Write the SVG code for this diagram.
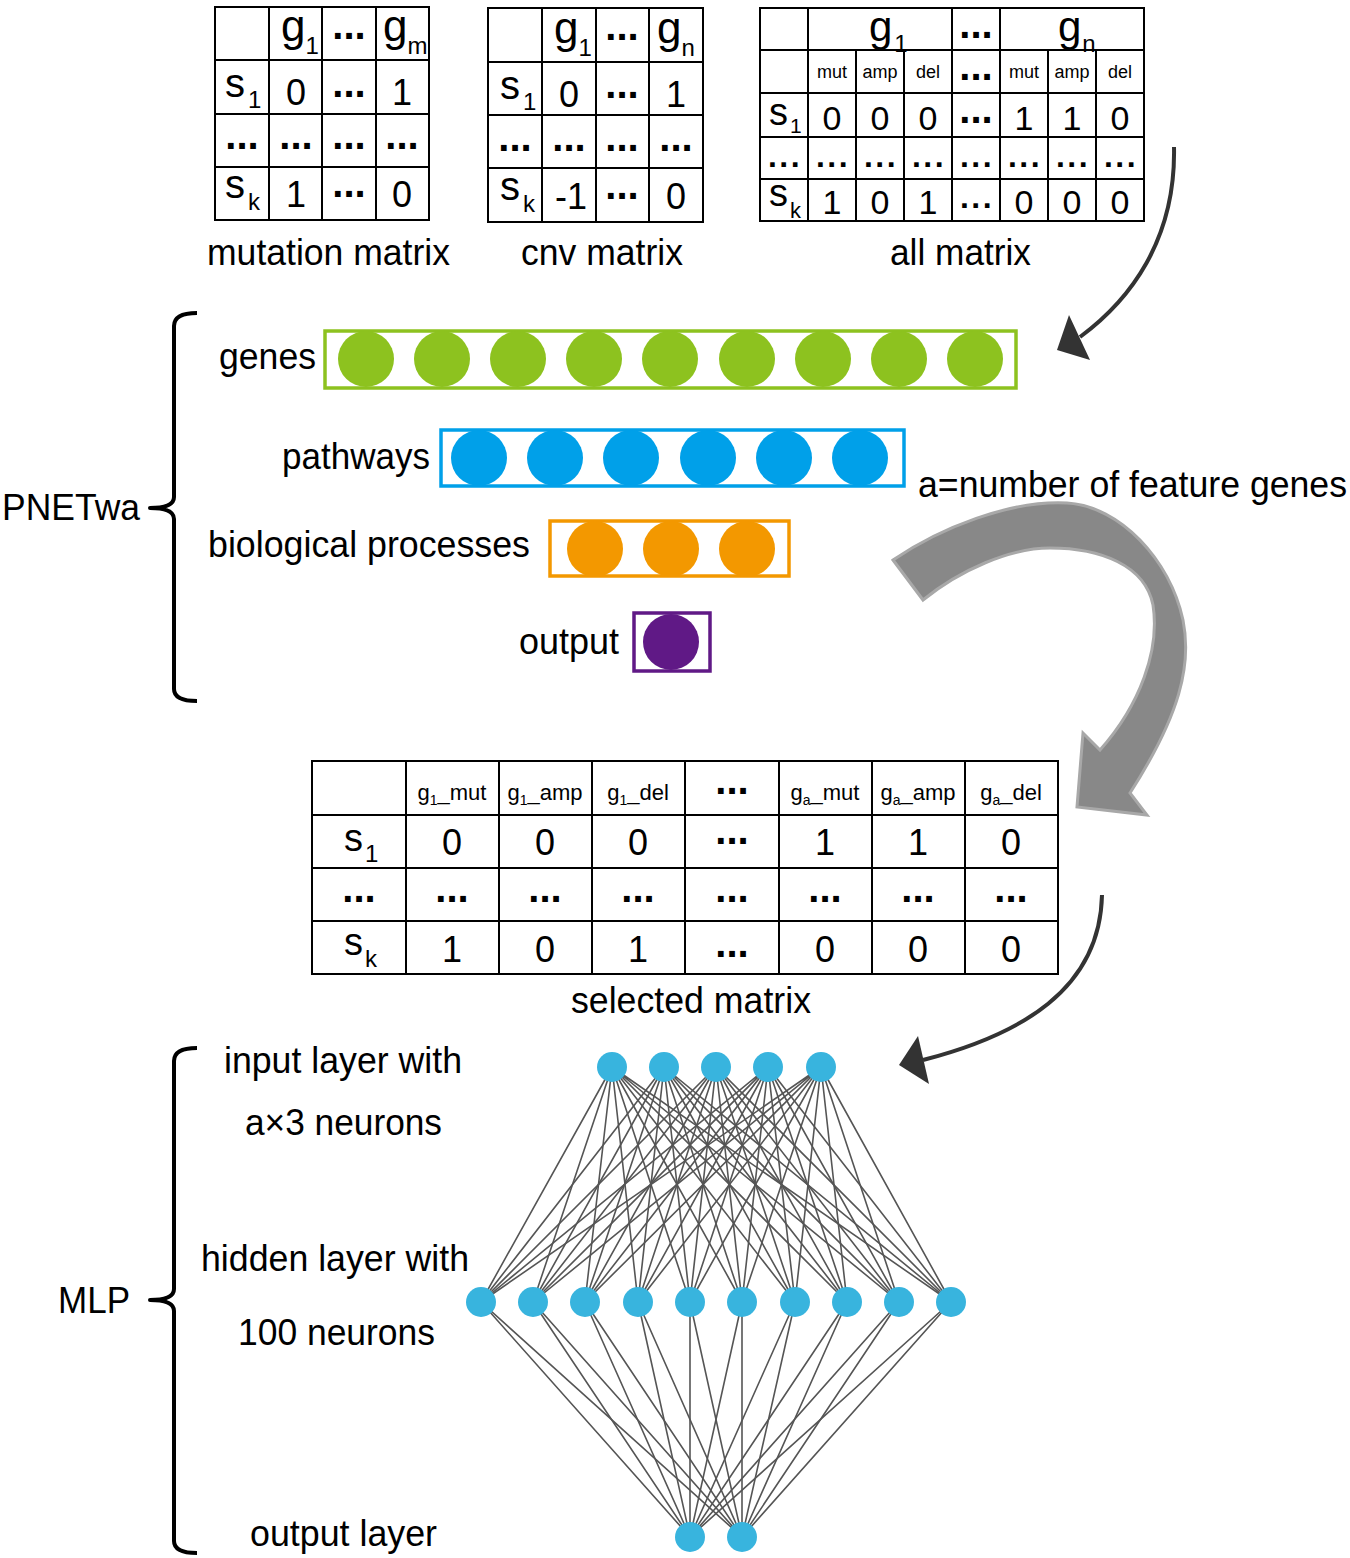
<svg xmlns="http://www.w3.org/2000/svg" width="1350" height="1558" viewBox="0 0 1350 1558">
<style>
text{font-family:"Liberation Sans",Arial,Helvetica,sans-serif;fill:#000}
.lbl{font-size:36px}
.grid{fill:none;stroke:#000;stroke-width:2}
.d{font-weight:bold;font-size:40px;text-anchor:middle}
.ds{font-weight:bold;font-size:32px;letter-spacing:2.5px;text-anchor:middle}
.n{font-size:36px;text-anchor:middle}
.na{font-size:34px;text-anchor:middle}
.sh{font-size:18px;text-anchor:middle}
.hd{font-size:22px;text-anchor:middle}
.edge{fill:none;stroke:#555;stroke-width:1.6}
.mn{fill:#38B4DE}
.conn{fill:none;stroke:#333;stroke-width:4}
.head{fill:#333}
.brace{fill:none;stroke:#000;stroke-width:4;stroke-linejoin:round}
</style>
<rect width="1350" height="1558" fill="#fff"/>

<!-- mutation matrix -->
<g id="mutation-matrix">
<rect class="grid" x="215" y="7" width="214" height="213"/>
<path class="grid" d="M269,7V220M322,7V220M376,7V220M215,60H429M215,114H429M215,167H429"/>
<text x="281" y="41" font-size="44">g<tspan font-size="24" dy="13">1</tspan></text>
<text class="d" x="349" y="39">...</text>
<text x="383" y="41" font-size="44">g<tspan font-size="24" dy="13">m</tspan></text>
<text x="225" y="97" font-size="40">s<tspan font-size="24" dy="11" dx="3">1</tspan></text>
<text class="n" x="296" y="105">0</text>
<text class="d" x="349" y="97">...</text>
<text class="n" x="402" y="105">1</text>
<text class="d" x="242" y="149">...</text>
<text class="d" x="296" y="149">...</text>
<text class="d" x="349" y="149">...</text>
<text class="d" x="402" y="149">...</text>
<text x="225" y="198" font-size="40">s<tspan font-size="24" dy="12" dx="3">k</tspan></text>
<text class="n" x="296" y="207">1</text>
<text class="d" x="349" y="197">...</text>
<text class="n" x="402" y="207">0</text>
<text class="lbl" x="207" y="265" textLength="243" lengthAdjust="spacingAndGlyphs">mutation matrix</text>
</g>

<!-- cnv matrix -->
<g id="cnv-matrix">
<rect class="grid" x="488" y="8" width="215" height="214"/>
<path class="grid" d="M542,8V222M596,8V222M649,8V222M488,62H703M488,115H703M488,168H703"/>
<text x="554" y="43" font-size="44">g<tspan font-size="24" dy="13">1</tspan></text>
<text class="d" x="622" y="40">...</text>
<text x="657" y="43" font-size="44">g<tspan font-size="24" dy="13">n</tspan></text>
<text x="500" y="99" font-size="40">s<tspan font-size="24" dy="11" dx="3">1</tspan></text>
<text class="n" x="569" y="107">0</text>
<text class="d" x="622" y="98">...</text>
<text class="n" x="676" y="107">1</text>
<text class="d" x="515" y="151">...</text>
<text class="d" x="569" y="151">...</text>
<text class="d" x="622" y="151">...</text>
<text class="d" x="676" y="151">...</text>
<text x="500" y="200" font-size="40">s<tspan font-size="24" dy="12" dx="3">k</tspan></text>
<text class="n" x="571" y="209">-1</text>
<text class="d" x="622" y="199">...</text>
<text class="n" x="676" y="209">0</text>
<text class="lbl" x="521" y="265" textLength="162" lengthAdjust="spacingAndGlyphs">cnv matrix</text>
</g>

<!-- all matrix -->
<g id="all-matrix">
<rect class="grid" x="760" y="8" width="384" height="213"/>
<path class="grid" d="M808,8V221M952,8V221M1000,8V221M856,50V221M904,50V221M1048,50V221M1096,50V221M760,50H1144M760,93H1144M760,137H1144M760,179H1144"/>
<text x="869" y="41" font-size="42">g<tspan font-size="24" dy="11" dx="2">1</tspan></text>
<text class="d" x="976" y="38">...</text>
<text x="1058" y="41" font-size="42">g<tspan font-size="24" dy="11" dx="1">n</tspan></text>
<text class="sh" x="832" y="78">mut</text>
<text class="sh" x="880" y="78">amp</text>
<text class="sh" x="928" y="78">del</text>
<text class="d" x="976" y="80">...</text>
<text class="sh" x="1024" y="78">mut</text>
<text class="sh" x="1072" y="78">amp</text>
<text class="sh" x="1120" y="78">del</text>
<text x="769" y="125" font-size="38">s<tspan font-size="21" dy="8" dx="2">1</tspan></text>
<text class="na" x="832" y="130">0</text>
<text class="na" x="880" y="130">0</text>
<text class="na" x="928" y="130">0</text>
<text class="d" x="976" y="123">...</text>
<text class="na" x="1024" y="130">1</text>
<text class="na" x="1072" y="130">1</text>
<text class="na" x="1120" y="130">0</text>
<text class="ds" x="785" y="167">...</text>
<text class="ds" x="833" y="167">...</text>
<text class="ds" x="881" y="167">...</text>
<text class="ds" x="929" y="167">...</text>
<text class="ds" x="977" y="167">...</text>
<text class="ds" x="1025" y="167">...</text>
<text class="ds" x="1073" y="167">...</text>
<text class="ds" x="1121" y="167">...</text>
<text x="769" y="206" font-size="38">s<tspan font-size="22" dy="12" dx="2">k</tspan></text>
<text class="na" x="832" y="214">1</text>
<text class="na" x="880" y="214">0</text>
<text class="na" x="928" y="214">1</text>
<text class="ds" x="977" y="208">...</text>
<text class="na" x="1024" y="214">0</text>
<text class="na" x="1072" y="214">0</text>
<text class="na" x="1120" y="214">0</text>
<text class="lbl" x="890" y="265" textLength="141" lengthAdjust="spacingAndGlyphs">all matrix</text>
</g>

<!-- connectors -->
<g id="connectors">
<path class="conn" d="M1174,147C1176,240 1130,300 1080,337"/>
<polygon class="head" points="1057,350 1069,315 1090,360"/>
<path class="conn" d="M1102,895C1100,990 1020,1035 923,1060"/>
<polygon class="head" points="899,1065 918,1036 929,1084"/>
<path id="big-arrow" d="M893,560C940,528 1010,500 1067,503C1120,506 1170,560 1183,620C1192,665 1180,715 1130,793L1147,815L1077,807L1083,733L1100,750C1140,705 1160,650 1153,605C1145,565 1100,548 1050,548C1010,548 960,570 923,600Z" fill="#888" stroke="#a8a8a8" stroke-width="3" stroke-linejoin="miter"/>
<path class="edge" d="M612,1067L481,1302M612,1067L533,1302M612,1067L585,1302M612,1067L638,1302M612,1067L690,1302M612,1067L742,1302M612,1067L795,1302M612,1067L847,1302M612,1067L899,1302M612,1067L951,1302"/>
<path class="edge" d="M664,1067L481,1302M664,1067L533,1302M664,1067L585,1302M664,1067L638,1302M664,1067L690,1302M664,1067L742,1302M664,1067L795,1302M664,1067L847,1302M664,1067L899,1302M664,1067L951,1302"/>
<path class="edge" d="M716,1067L481,1302M716,1067L533,1302M716,1067L585,1302M716,1067L638,1302M716,1067L690,1302M716,1067L742,1302M716,1067L795,1302M716,1067L847,1302M716,1067L899,1302M716,1067L951,1302"/>
<path class="edge" d="M768,1067L481,1302M768,1067L533,1302M768,1067L585,1302M768,1067L638,1302M768,1067L690,1302M768,1067L742,1302M768,1067L795,1302M768,1067L847,1302M768,1067L899,1302M768,1067L951,1302"/>
<path class="edge" d="M821,1067L481,1302M821,1067L533,1302M821,1067L585,1302M821,1067L638,1302M821,1067L690,1302M821,1067L742,1302M821,1067L795,1302M821,1067L847,1302M821,1067L899,1302M821,1067L951,1302"/>
<path class="edge" d="M690,1537L481,1302M690,1537L533,1302M690,1537L585,1302M690,1537L638,1302M690,1537L690,1302M690,1537L742,1302M690,1537L795,1302M690,1537L847,1302M690,1537L899,1302M690,1537L951,1302"/>
<path class="edge" d="M742,1537L481,1302M742,1537L533,1302M742,1537L585,1302M742,1537L638,1302M742,1537L690,1302M742,1537L742,1302M742,1537L795,1302M742,1537L847,1302M742,1537L899,1302M742,1537L951,1302"/>
</g>

<!-- PNETwa -->
<g id="pnetwa-brace">
<path class="brace" d="M197,313Q174,313 174,326L174,497Q174,508 150,508Q174,508 174,519L174,689Q174,701 197,701"/>
<text class="lbl" x="2" y="520" textLength="138" lengthAdjust="spacingAndGlyphs">PNETwa</text>
</g>
<g id="genes-layer">
<rect x="325" y="331" width="691" height="57" fill="#fff" stroke="#8DC21F" stroke-width="3.5"/>
<g fill="#8DC21F">
<circle cx="366" cy="359" r="28"/><circle cx="442" cy="359" r="28"/><circle cx="518" cy="359" r="28"/><circle cx="594" cy="359" r="28"/><circle cx="670" cy="359" r="28"/><circle cx="747" cy="359" r="28"/><circle cx="823" cy="359" r="28"/><circle cx="899" cy="359" r="28"/><circle cx="975" cy="359" r="28"/>
</g>
<text class="lbl" x="219" y="369" textLength="97" lengthAdjust="spacingAndGlyphs">genes</text>
</g>
<g id="pathways-layer">
<rect x="441" y="430" width="463" height="56" fill="#fff" stroke="#00A0E9" stroke-width="3.5"/>
<g fill="#00A0E9">
<circle cx="479" cy="458" r="28"/><circle cx="555" cy="458" r="28"/><circle cx="631" cy="458" r="28"/><circle cx="708" cy="458" r="28"/><circle cx="784" cy="458" r="28"/><circle cx="860" cy="458" r="28"/>
</g>
<text class="lbl" x="282" y="469" textLength="148" lengthAdjust="spacingAndGlyphs">pathways</text>
</g>
<g id="bio-layer">
<rect x="550" y="521" width="239" height="55" fill="#fff" stroke="#F39800" stroke-width="3.5"/>
<g fill="#F39800">
<circle cx="595" cy="549" r="28"/><circle cx="671" cy="549" r="28"/><circle cx="747" cy="549" r="28"/>
</g>
<text class="lbl" x="208" y="557" textLength="322" lengthAdjust="spacingAndGlyphs">biological processes</text>
</g>
<g id="output-layer-pnet">
<rect x="634" y="613" width="76" height="58" fill="#fff" stroke="#601986" stroke-width="3.5"/>
<circle cx="671" cy="642" r="28" fill="#601986"/>
<text class="lbl" x="519" y="654" textLength="100" lengthAdjust="spacingAndGlyphs">output</text>
</g>
<g id="feature-note">
<text class="lbl" x="918" y="497" textLength="429" lengthAdjust="spacingAndGlyphs">a=number of feature genes</text>
</g>

<!-- selected matrix -->
<g id="selected-matrix">
<rect class="grid" x="312" y="761" width="746" height="213"/>
<path class="grid" d="M406,761V974M499,761V974M592,761V974M685,761V974M779,761V974M872,761V974M965,761V974M312,815H1058M312,868H1058M312,921H1058"/>
<text class="hd" x="452" y="800">g<tspan font-size="14" dy="5">1</tspan><tspan dy="-5">_mut</tspan></text>
<text class="hd" x="545" y="800">g<tspan font-size="14" dy="5">1</tspan><tspan dy="-5">_amp</tspan></text>
<text class="hd" x="638" y="800">g<tspan font-size="14" dy="5">1</tspan><tspan dy="-5">_del</tspan></text>
<text class="d" x="732" y="794">...</text>
<text class="hd" x="825" y="800">g<tspan font-size="14" dy="5">a</tspan><tspan dy="-5">_mut</tspan></text>
<text class="hd" x="918" y="800">g<tspan font-size="14" dy="5">a</tspan><tspan dy="-5">_amp</tspan></text>
<text class="hd" x="1011" y="800">g<tspan font-size="14" dy="5">a</tspan><tspan dy="-5">_del</tspan></text>
<text x="344" y="851" font-size="38">s<tspan font-size="24" dy="11" dx="2">1</tspan></text>
<text class="n" x="452" y="855">0</text>
<text class="n" x="545" y="855">0</text>
<text class="n" x="638" y="855">0</text>
<text class="d" x="732" y="844">...</text>
<text class="n" x="825" y="855">1</text>
<text class="n" x="918" y="855">1</text>
<text class="n" x="1011" y="855">0</text>
<text class="d" x="359" y="902">...</text>
<text class="d" x="452" y="902">...</text>
<text class="d" x="545" y="902">...</text>
<text class="d" x="638" y="902">...</text>
<text class="d" x="732" y="902">...</text>
<text class="d" x="825" y="902">...</text>
<text class="d" x="918" y="902">...</text>
<text class="d" x="1011" y="902">...</text>
<text x="344" y="955" font-size="38">s<tspan font-size="24" dy="12" dx="2">k</tspan></text>
<text class="n" x="452" y="962">1</text>
<text class="n" x="545" y="962">0</text>
<text class="n" x="638" y="962">1</text>
<text class="d" x="732" y="957">...</text>
<text class="n" x="825" y="962">0</text>
<text class="n" x="918" y="962">0</text>
<text class="n" x="1011" y="962">0</text>
<text class="lbl" x="571" y="1013" textLength="240" lengthAdjust="spacingAndGlyphs">selected matrix</text>
</g>

<!-- MLP -->
<g id="mlp-brace">
<path class="brace" d="M197,1048Q174,1048 174,1061L174,1289Q174,1300 150,1300Q174,1300 174,1311L174,1541Q174,1553 197,1553"/>
<text class="lbl" x="58" y="1313" textLength="72" lengthAdjust="spacingAndGlyphs">MLP</text>
</g>
<g id="mlp-labels">
<text class="lbl" x="224" y="1073" textLength="238" lengthAdjust="spacingAndGlyphs">input layer with</text>
<text class="lbl" x="245" y="1135" textLength="197" lengthAdjust="spacingAndGlyphs">a×3 neurons</text>
<text class="lbl" x="201" y="1271" textLength="268" lengthAdjust="spacingAndGlyphs">hidden layer with</text>
<text class="lbl" x="238" y="1345" textLength="197" lengthAdjust="spacingAndGlyphs">100 neurons</text>
<text class="lbl" x="250" y="1546" textLength="187" lengthAdjust="spacingAndGlyphs">output layer</text>
</g>
<g id="mlp-input">
<circle class="mn" cx="612" cy="1067" r="15"/><circle class="mn" cx="664" cy="1067" r="15"/><circle class="mn" cx="716" cy="1067" r="15"/><circle class="mn" cx="768" cy="1067" r="15"/><circle class="mn" cx="821" cy="1067" r="15"/>
</g>
<g id="mlp-hidden">
<circle class="mn" cx="481" cy="1302" r="15"/><circle class="mn" cx="533" cy="1302" r="15"/><circle class="mn" cx="585" cy="1302" r="15"/><circle class="mn" cx="638" cy="1302" r="15"/><circle class="mn" cx="690" cy="1302" r="15"/><circle class="mn" cx="742" cy="1302" r="15"/><circle class="mn" cx="795" cy="1302" r="15"/><circle class="mn" cx="847" cy="1302" r="15"/><circle class="mn" cx="899" cy="1302" r="15"/><circle class="mn" cx="951" cy="1302" r="15"/>
</g>
<g id="mlp-output">
<circle class="mn" cx="690" cy="1537" r="15"/><circle class="mn" cx="742" cy="1537" r="15"/>
</g>
</svg>
